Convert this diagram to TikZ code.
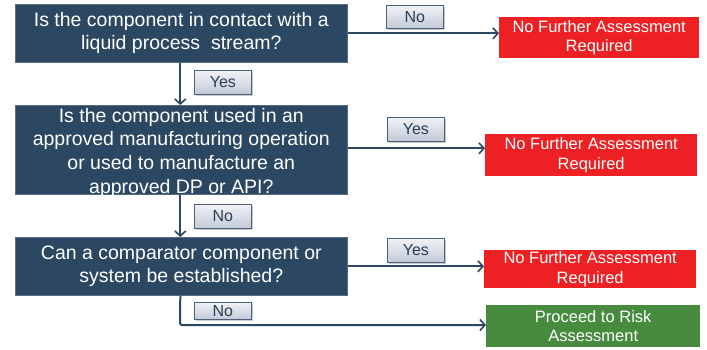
\documentclass[tikz,border=0pt]{standalone}
\usepackage{fontspec}
\setmainfont{Liberation Sans}
\usetikzlibrary{arrows.meta,shadows}

\definecolor{navy}{HTML}{2B4762}
\definecolor{stopred}{HTML}{ED2024}
\definecolor{gogreen}{HTML}{478B3F}
\definecolor{tagedge}{HTML}{4A6179}
\definecolor{tagtop}{HTML}{F0F2F6}
\definecolor{tagbottom}{HTML}{C2CAD7}
\definecolor{tagtext}{HTML}{2A3E54}

\tikzset{
  question/.style={fill=navy, draw=navy!80!white, line width=0.6pt, text=white,
    anchor=north west, align=center, inner sep=0pt,
    font=\fontsize{19.5}{23}\selectfont},
  outcome/.style={anchor=north west, align=center, inner sep=0pt, text=white,
    font=\fontsize{16.5}{19.5}\selectfont},
  tag/.style={anchor=north west, inner sep=0pt, draw=tagedge, line width=0.8pt,
    top color=tagtop, bottom color=tagbottom, text=tagtext,
    font=\fontsize{16}{18}\selectfont,
    drop shadow={shadow xshift=1.2pt, shadow yshift=-1.2pt, opacity=0.35, fill=black!60}},
  flow/.style={draw=navy, line width=2pt,
    -{Straight Barb[length=5pt, width=11pt, line width=1.6pt]}},
}

\begin{document}
\begin{tikzpicture}[x=1pt, y=-1pt]
  \useasboundingbox (0,0) rectangle (707,349);

  % decision boxes
  \node[question, minimum width=332pt, minimum height=58pt] (q1) at (15,4)
    {Is the component in contact with a\\ liquid process\ \ stream?};
  \node[question, minimum width=332pt, minimum height=89pt] (q2) at (15,105) {};
  \node[align=center, text=white, inner sep=0pt,
        font=\fontsize{19.5}{23.7}\selectfont] (q2text) at ([yshift=-3pt]q2.center)
    {Is the component used in an\\ approved manufacturing operation\\ or used to manufacture an\\ approved DP or API?};
  \node[question, minimum width=332pt, minimum height=58pt] (q3) at (15,237)
    {Can a comparator component or\\ system be established?};

  % outcomes
  \node[outcome, fill=stopred, minimum width=200pt, minimum height=41pt] (r1) at (499,17)
    {No Further Assessment\\ Required};
  \node[outcome, fill=stopred, minimum width=212pt, minimum height=42pt] (r2) at (485,134)
    {No Further Assessment\\ Required};
  \node[outcome, fill=stopred, minimum width=212pt, minimum height=38pt] (r3) at (484,250)
    {No Further Assessment\\ Required};
  \node[outcome, fill=gogreen, minimum width=214pt, minimum height=42pt] (g1) at (486,305)
    {Proceed to Risk\\ Assessment};

  \coordinate (bend) at (180,325);

  % connectors
  \draw[flow] ([xshift=-1pt]q1.south) -- ([xshift=-1pt]q2.north);
  \draw[flow] ([xshift=-1pt]q2.south) -- ([xshift=-1pt]q3.north);
  \draw[flow] (q1.east) -- (q1.east -| r1.west);
  \draw[flow] ([yshift=1.5pt]q2.east) -- ([yshift=1.5pt]q2.east -| r2.west);
  \draw[flow] (q3.east) -- (q3.east -| r3.west);
  \draw[flow, rounded corners=2pt] ([xshift=-1pt]q3.south) -- (bend) -- (bend -| g1.west);

  % answer tags
  \node[tag, minimum width=57pt, minimum height=24pt] (t1) at (194,70) {Yes};
  \node[tag, minimum width=57pt, minimum height=23pt] (t2) at (386,5) {No};
  \node[tag, minimum width=57pt, minimum height=24pt] (t3) at (387,117) {Yes};
  \node[tag, minimum width=57pt, minimum height=24pt] (t4) at (194,204) {No};
  \node[tag, minimum width=57pt, minimum height=24pt] (t5) at (387,238) {Yes};
  \node[tag, minimum width=57pt, minimum height=17pt] (t6) at (194,302) {No};
\end{tikzpicture}
\end{document}
